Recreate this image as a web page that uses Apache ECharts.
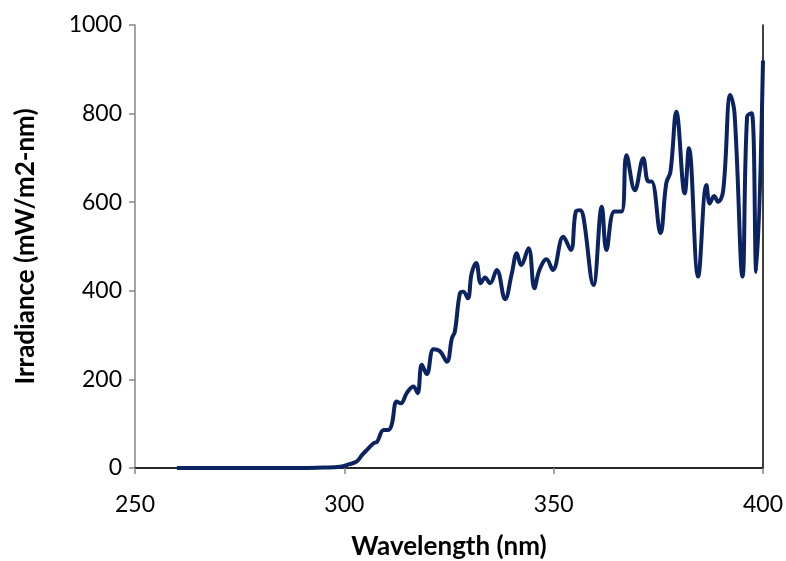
<!DOCTYPE html>
<html>
<head>
<meta charset="utf-8">
<script src="https://cdn.jsdelivr.net/npm/echarts@6/dist/echarts.min.js"></script>
<style>
  html, body { margin: 0; padding: 0; background: #fff; }
  #chart { width: 786px; height: 561px; }
</style>
</head>
<body>
<div id="chart"></div>
<script>
// wavelength (nm) and irradiance (mW/m2-nm)
var wavelength = [
  260, 270, 280, 290, 295, 299, 301, 303, 304.2, 305.4,
  307, 307.8, 309.4, 310.5, 311.3, 312.5, 313.5, 314.9, 316.5, 317.5,
  318.5, 319.7, 321.3, 322.9, 324.5, 325.7, 326.4, 327.6, 328.4, 329.5,
  330.4, 331.5, 332.6, 333.6, 334.8, 336.4, 338.4, 340, 341.2, 342.2,
  344, 345.4, 346.6, 348.3, 349.8, 352.3, 354.1, 355.3, 356.3, 357.1,
  359.5, 361.5, 362.6, 364.5, 366.2, 367.4, 369.4, 371.4, 372.6, 373.4,
  375.5, 376.9, 377.9, 379.3, 381.3, 382.3, 384.5, 386.5, 387.3, 388.3,
  389.3, 390.5, 392.2, 393.2, 395.1, 396.2, 397.3, 398.4, 400
];
var irradiance = [
  0, 0, 0, 0, 1, 3, 8, 15, 29, 41,
  56, 59, 86, 86, 97, 150, 146, 169, 184, 169,
  233, 212, 268, 263, 240, 293, 308, 394, 398, 383,
  439, 463, 417, 430, 417, 447, 381, 439, 485, 458,
  496, 406, 447, 471, 447, 522, 492, 579, 582, 567,
  413, 590, 492, 579, 579, 706, 627, 699, 647, 647,
  530, 643, 669, 804, 620, 722, 432, 639, 597, 614,
  601, 627, 842, 801, 432, 793, 801, 443, 920
];
var xTicks = [250, 400, 50];   // min, max, interval
var yTicks = [0, 1000, 200];

var points = wavelength.map(function(w, i) { return [w, irradiance[i]]; });

var font = 'Lato, "Open Sans", sans-serif';
var axisGray = '#868686';

var chart = echarts.init(document.getElementById('chart'), null, { renderer: 'canvas' });
chart.setOption({
  animation: false,
  backgroundColor: '#fff',
  grid: { left: 135, right: 23, top: 25, bottom: 93, outerBoundsMode: 'none', containLabel: false },
  xAxis: [{
    type: 'value',
    min: xTicks[0], max: xTicks[1], interval: xTicks[2],
    name: 'Wavelength (nm)',
    nameLocation: 'middle',
    nameGap: 66,
    nameTextStyle: { fontFamily: font, fontSize: 26, fontWeight: 'bold', color: '#000' },
    axisLine: { onZero: false, lineStyle: { color: axisGray, width: 1.5 } },
    axisTick: { inside: false, length: 6, lineStyle: { color: axisGray, width: 1.5 } },
    axisLabel: { fontFamily: font, fontSize: 23, color: '#000', margin: 25 },
    splitLine: { show: false }
  }, {
    type: 'value', position: 'top',
    min: xTicks[0], max: xTicks[1],
    axisLine: { lineStyle: { color: '#000', width: 1.5 } },
    axisTick: { show: false }, axisLabel: { show: false }, splitLine: { show: false }
  }],
  yAxis: [{
    type: 'value',
    min: yTicks[0], max: yTicks[1], interval: yTicks[2],
    name: 'Irradiance (mW/m2-nm)',
    nameLocation: 'middle',
    nameGap: 96,
    nameTextStyle: { fontFamily: font, fontSize: 26, fontWeight: 'bold', color: '#000' },
    axisLine: { show: true, lineStyle: { color: axisGray, width: 1.5 } },
    axisTick: { show: true, inside: false, length: 6, lineStyle: { color: axisGray, width: 1.5 } },
    axisLabel: {
      fontFamily: font, fontSize: 23, color: '#000', margin: 13,
      formatter: function(v) { return String(v); }
    },
    splitLine: { show: false }
  }, {
    type: 'value', position: 'right',
    min: yTicks[0], max: yTicks[1],
    axisLine: { show: true, lineStyle: { color: '#000', width: 1.5 } },
    axisTick: { show: false }, axisLabel: { show: false }, splitLine: { show: false }
  }],
  series: [{
    type: 'line',
    data: points,
    smooth: 0.4,
    showSymbol: false,
    clip: false,
    lineStyle: { color: '#0b2461', width: 4 }
  }]
});
</script>
</body>
</html>
